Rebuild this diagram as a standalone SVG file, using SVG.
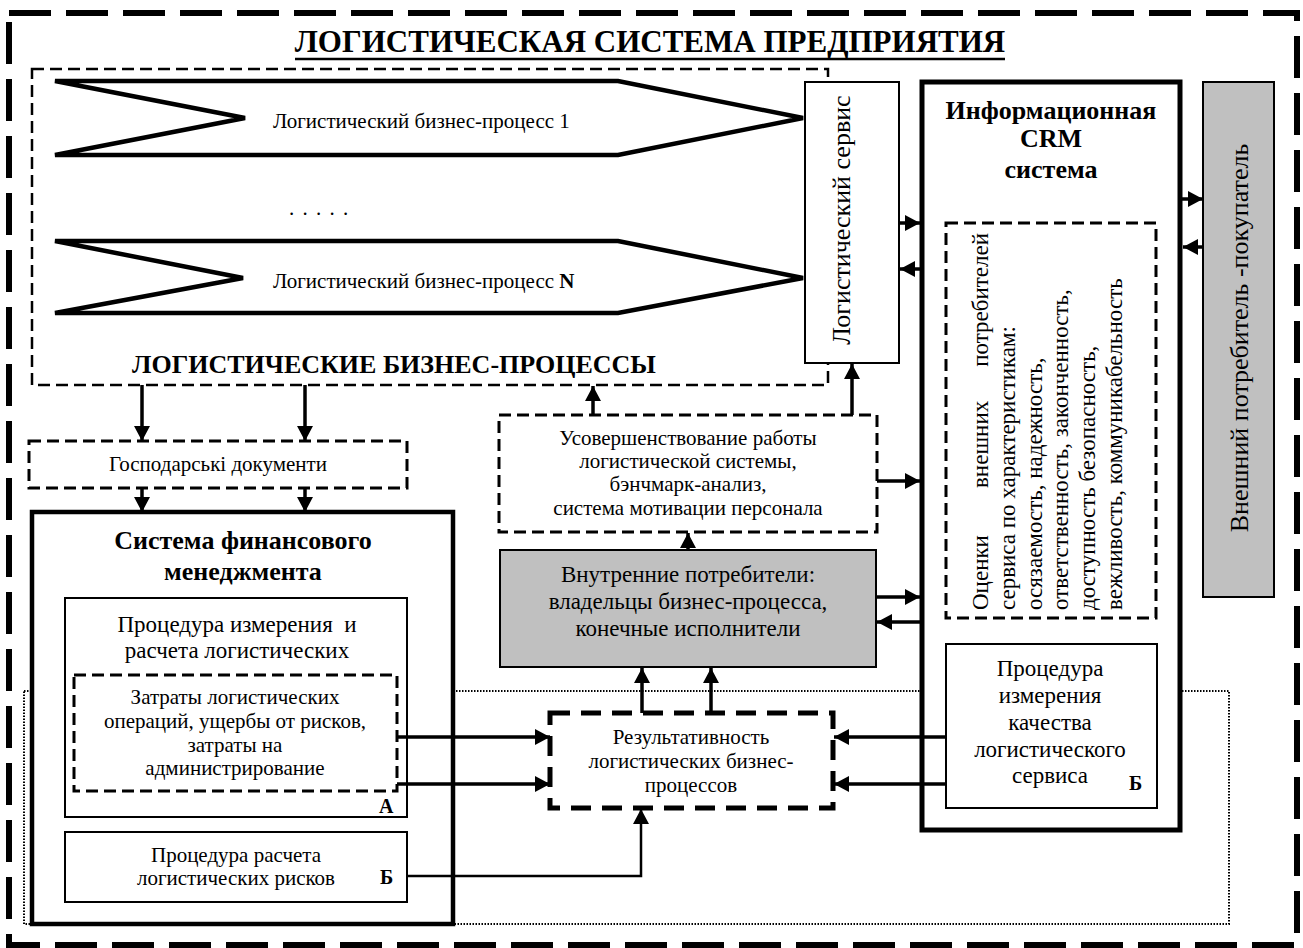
<svg xmlns="http://www.w3.org/2000/svg" width="1303" height="948" viewBox="0 0 1303 948">
<defs>
<style>
text{font-family:"Liberation Serif","Times New Roman",serif;fill:#000}
.b{font-weight:bold}
.m{text-anchor:middle}
.box{fill:#fff;stroke:#000;stroke-width:2}
.gray{fill:#c0c0c0;stroke:#000;stroke-width:2}
.dash{fill:#fff;stroke:#000;stroke-width:3;stroke-dasharray:12 6}
.conn{fill:none;stroke:#000;stroke-width:3.5}
.arr{marker-end:url(#ah)}
</style>
<marker id="ah" markerUnits="userSpaceOnUse" markerWidth="15" markerHeight="16" refX="15" refY="8" orient="auto"><path d="M0,0 L15,8 L0,16 z" fill="#000"/></marker>
</defs>
<rect width="1303" height="948" fill="#fff"/>
<g id="frame">
<rect x="9" y="13" width="1288" height="932" fill="none" stroke="#000" stroke-width="6" stroke-dasharray="42 15"/>
<rect x="24" y="691" width="1205" height="233" fill="none" stroke="#000" stroke-width="2" stroke-dasharray="1.5 1.5"/>
<text x="650" y="52" class="b m" font-size="31">ЛОГИСТИЧЕСКАЯ СИСТЕМА ПРЕДПРИЯТИЯ</text>
<line x1="295" y1="59" x2="1005" y2="59" stroke="#000" stroke-width="2.5"/>
</g>
<g id="lbp">
<rect x="32" y="69" width="796" height="316" fill="#fff" stroke="#000" stroke-width="2.5" stroke-dasharray="12 6"/>
<polygon points="55,81 618,81 803,118 618,155 55,155 245,118" fill="#fff" stroke="#000" stroke-width="4.5" stroke-linejoin="miter"/>
<text x="273" y="128" font-size="21">Логистический бизнес-процесс 1</text>
<text x="289" y="215" font-size="21" letter-spacing="1.5">. . . . .</text>
<polygon points="55,241 618,241 803,278 618,313 55,313 243,278" fill="#fff" stroke="#000" stroke-width="4.5"/>
<text x="273" y="288" font-size="21">Логистический бизнес-процесс <tspan class="b">N</tspan></text>
<text x="394" y="373" class="b m" font-size="26">ЛОГИСТИЧЕСКИЕ БИЗНЕС-ПРОЦЕССЫ</text>
</g>
<g id="service">
<rect x="805" y="82" width="94" height="281" class="box"/>
<text transform="rotate(-90)" x="-220" y="850" class="m" font-size="26">Логистический сервис</text>
</g>
<g id="crm">
<rect x="922" y="82" width="258" height="748" fill="#fff" stroke="#000" stroke-width="5"/>
<text x="1051" y="119" class="b m" font-size="26">Информационная</text>
<text x="1051" y="147" class="b m" font-size="26">CRM</text>
<text x="1051" y="178" class="b m" font-size="26">система</text>
</g>
<g id="ratings">
<rect x="946" y="223" width="210" height="395" class="dash"/>
<g transform="rotate(-90)">
<text x="-610" y="988" font-size="23">Оценки</text>
<text x="-488" y="988" font-size="23">внешних</text>
<text x="-233" y="988" font-size="23" text-anchor="end">потребителей</text>
<text x="-610" y="1015" font-size="23">сервиса по характеристикам:</text>
<text x="-610" y="1042" font-size="23">осязаемость, надежность,</text>
<text x="-610" y="1068" font-size="23">ответственность, законченность,</text>
<text x="-610" y="1095" font-size="23">доступность безопасность,</text>
<text x="-610" y="1122" font-size="23">вежливость, коммуникабельность</text>
</g>
</g>
<g id="quality">
<rect x="946" y="644" width="211" height="164" class="box"/>
<text x="1050" y="676" class="m" font-size="23">Процедура</text>
<text x="1050" y="703" class="m" font-size="23">измерения</text>
<text x="1050" y="730" class="m" font-size="23">качества</text>
<text x="1050" y="757" class="m" font-size="23">логистического</text>
<text x="1050" y="783" class="m" font-size="23">сервиса</text>
<text x="1129" y="790" class="b" font-size="20">Б</text>
</g>
<g id="external">
<rect x="1203" y="82" width="71" height="515" class="gray"/>
<text transform="rotate(-90)" x="-338" y="1248" class="m" font-size="26">Внешний потребитель -покупатель</text>
</g>
<g id="improve">
<rect x="499" y="415" width="378" height="117" class="dash"/>
<text x="688" y="445" class="m" font-size="21">Усовершенствование работы</text>
<text x="688" y="468" class="m" font-size="21">логистической системы,</text>
<text x="688" y="491" class="m" font-size="21">бэнчмарк-анализ,</text>
<text x="688" y="515" class="m" font-size="21">система мотивации персонала</text>
</g>
<g id="internal">
<rect x="500" y="550" width="376" height="117" class="gray"/>
<text x="688" y="582" class="m" font-size="23">Внутренние потребители:</text>
<text x="688" y="609" class="m" font-size="23">владельцы бизнес-процесса,</text>
<text x="688" y="636" class="m" font-size="23">конечные исполнители</text>
</g>
<g id="docs">
<rect x="29" y="441" width="378" height="47" class="dash"/>
<text x="218" y="471" class="m" font-size="21">Господарськi документи</text>
</g>
<g id="finance">
<rect x="32" y="512" width="421" height="412" fill="#fff" stroke="#000" stroke-width="4.5"/>
<text x="243" y="549" class="b m" font-size="26">Система финансового</text>
<text x="243" y="580" class="b m" font-size="26">менеджмента</text>
</g>
<g id="measure">
<rect x="65" y="598" width="342" height="219" class="box"/>
<text x="237" y="632" class="m" font-size="23" xml:space="preserve">Процедура измерения  и</text>
<text x="237" y="658" class="m" font-size="23">расчета логистических</text>
<text x="379" y="813" class="b" font-size="20">А</text>
</g>
<g id="costs">
<rect x="74" y="675" width="323" height="116" class="dash"/>
<text x="235" y="704" class="m" font-size="21">Затраты логистических</text>
<text x="235" y="728" class="m" font-size="21">операций, ущербы от рисков,</text>
<text x="235" y="752" class="m" font-size="21">затраты на</text>
<text x="235" y="775" class="m" font-size="21">администрирование</text>
</g>
<g id="risks">
<rect x="65" y="832" width="342" height="70" class="box"/>
<text x="236" y="862" class="m" font-size="21">Процедура расчета</text>
<text x="236" y="885" class="m" font-size="21">логистических рисков</text>
<text x="380" y="884" class="b" font-size="20">Б</text>
</g>
<g id="result">
<rect x="550" y="713" width="283" height="95" fill="#fff" stroke="#000" stroke-width="5" stroke-dasharray="20 11"/>
<text x="691" y="744" class="m" font-size="21">Результативность</text>
<text x="691" y="768" class="m" font-size="21">логистических бизнес-</text>
<text x="691" y="792" class="m" font-size="21">процессов</text>
</g>
<g id="connectors" class="conn">
<path class="arr" d="M142,385 V441"/>
<path class="arr" d="M305,385 V441"/>
<path class="arr" d="M142,488 V512"/>
<path class="arr" d="M305,488 V512"/>
<path class="arr" d="M593,415 V386"/>
<path class="arr" d="M852,415 V364"/>
<path class="arr" d="M688,550 V533"/>
<path class="arr" d="M642,713 V668"/>
<path class="arr" d="M711,713 V668"/>
<path class="arr" d="M899,223 H920"/>
<path class="arr" d="M922,269 H900"/>
<path class="arr" d="M1181,199 H1203"/>
<path class="arr" d="M1203,247 H1183"/>
<path class="arr" d="M877,481 H920"/>
<path class="arr" d="M876,597 H920"/>
<path class="arr" d="M922,622 H877"/>
<path class="arr" d="M397,737 H550"/>
<path class="arr" d="M397,784 H550"/>
<path class="arr" d="M407,876 H641 V809" stroke-width="2.5"/>
<path class="arr" d="M946,737 H834"/>
<path class="arr" d="M946,784 H834"/>
</g>
</svg>
